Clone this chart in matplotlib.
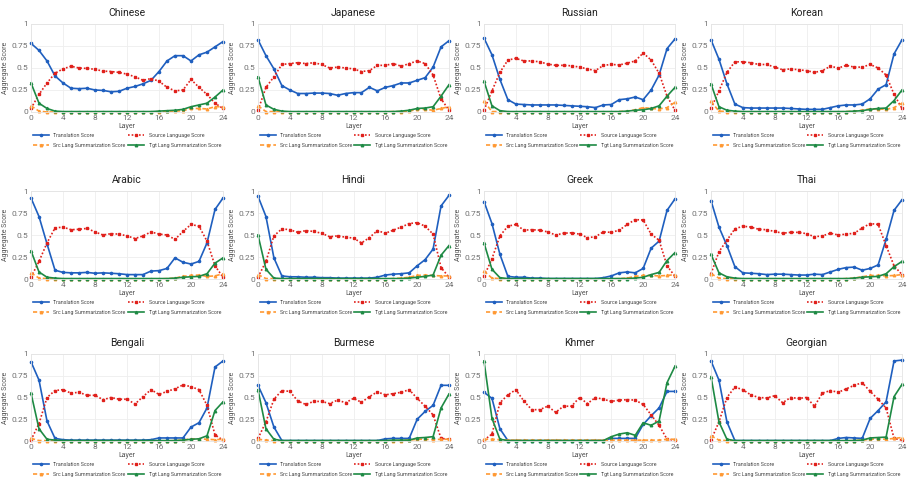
import matplotlib
matplotlib.use("Agg")
import matplotlib.pyplot as plt

plt.rcParams['font.family'] = ['Roboto', 'DejaVu Sans']

LAYERS = list(range(25))
LANGUAGES = ["Chinese", "Japanese", "Russian", "Korean",
             "Arabic", "Hindi", "Greek", "Thai",
             "Bengali", "Burmese", "Khmer", "Georgian"]
SERIES_NAMES = ["Translation Score", "Source Language Score",
                "Src Lang Summarization Score", "Tgt Lang Summarization Score"]

# ---- Chinese ----
zh_trans = [0.78, 0.70, 0.58, 0.41, 0.33, 0.27, 0.265, 0.27, 0.25, 0.245, 0.23, 0.235, 0.27, 0.29, 0.32, 0.36, 0.46, 0.58, 0.64, 0.64, 0.58, 0.65, 0.68, 0.74, 0.80]
zh_src = [0.04, 0.20, 0.33, 0.44, 0.49, 0.52, 0.50, 0.495, 0.485, 0.465, 0.46, 0.45, 0.43, 0.40, 0.36, 0.38, 0.35, 0.28, 0.24, 0.25, 0.37, 0.28, 0.20, 0.10, 0.04]
zh_srcsum = [0.07, 0.01, 0.0, 0.0, 0.0, 0.0, 0.0, 0.0, 0.0, 0.0, 0.0, 0.0, 0.0, 0.0, 0.0, 0.0, 0.005, 0.01, 0.01, 0.015, 0.04, 0.04, 0.035, 0.06, 0.06]
zh_tgtsum = [0.33, 0.10, 0.04, 0.01, 0.005, 0.005, 0.005, 0.005, 0.005, 0.005, 0.005, 0.005, 0.005, 0.005, 0.005, 0.005, 0.01, 0.015, 0.02, 0.03, 0.06, 0.08, 0.10, 0.17, 0.25]

# ---- Japanese ----
ja_trans = [0.82, 0.64, 0.49, 0.30, 0.25, 0.21, 0.21, 0.215, 0.215, 0.21, 0.19, 0.21, 0.22, 0.22, 0.28, 0.24, 0.28, 0.30, 0.33, 0.33, 0.36, 0.39, 0.51, 0.74, 0.81]
ja_src = [0.02, 0.28, 0.40, 0.54, 0.55, 0.56, 0.55, 0.56, 0.54, 0.50, 0.51, 0.50, 0.49, 0.46, 0.47, 0.53, 0.53, 0.55, 0.52, 0.55, 0.58, 0.55, 0.42, 0.15, 0.02]
ja_srcsum = [0.07, 0.005, 0.005, 0.0, 0.0, 0.0, 0.0, 0.0, 0.0, 0.0, 0.0, 0.0, 0.0, 0.0, 0.0, 0.0, 0.0, 0.005, 0.005, 0.01, 0.03, 0.03, 0.02, 0.04, 0.06]
ja_tgtsum = [0.40, 0.08, 0.03, 0.01, 0.005, 0.005, 0.005, 0.005, 0.005, 0.005, 0.005, 0.005, 0.005, 0.005, 0.005, 0.005, 0.005, 0.005, 0.01, 0.02, 0.04, 0.045, 0.06, 0.18, 0.31]

# ---- Russian ----
ru_trans = [0.84, 0.65, 0.37, 0.14, 0.09, 0.085, 0.08, 0.08, 0.08, 0.08, 0.075, 0.07, 0.065, 0.06, 0.05, 0.08, 0.085, 0.14, 0.15, 0.17, 0.14, 0.25, 0.42, 0.72, 0.83]
ru_src = [0.02, 0.24, 0.45, 0.59, 0.61, 0.58, 0.58, 0.57, 0.545, 0.53, 0.53, 0.525, 0.51, 0.49, 0.47, 0.53, 0.54, 0.535, 0.555, 0.58, 0.67, 0.59, 0.44, 0.18, 0.02]
ru_srcsum = [0.12, 0.005, 0.005, 0.0, 0.0, 0.0, 0.0, 0.0, 0.0, 0.0, 0.0, 0.0, 0.0, 0.0, 0.0, 0.0, 0.0, 0.005, 0.01, 0.025, 0.05, 0.04, 0.035, 0.05, 0.11]
ru_tgtsum = [0.35, 0.07, 0.015, 0.005, 0.005, 0.005, 0.005, 0.005, 0.005, 0.005, 0.005, 0.005, 0.005, 0.005, 0.005, 0.005, 0.005, 0.005, 0.01, 0.02, 0.025, 0.04, 0.07, 0.18, 0.28]

# ---- Korean ----
ko_trans = [0.82, 0.60, 0.32, 0.09, 0.05, 0.045, 0.045, 0.045, 0.045, 0.045, 0.04, 0.035, 0.03, 0.03, 0.03, 0.05, 0.07, 0.08, 0.08, 0.09, 0.15, 0.26, 0.31, 0.66, 0.82]
ko_src = [0.04, 0.24, 0.45, 0.57, 0.57, 0.56, 0.54, 0.54, 0.51, 0.48, 0.49, 0.48, 0.47, 0.45, 0.47, 0.52, 0.50, 0.53, 0.51, 0.51, 0.54, 0.50, 0.42, 0.20, 0.04]
ko_srcsum = [0.12, 0.01, 0.005, 0.0, 0.0, 0.0, 0.0, 0.0, 0.0, 0.0, 0.0, 0.0, 0.0, 0.0, 0.0, 0.0, 0.0, 0.005, 0.01, 0.02, 0.035, 0.035, 0.03, 0.05, 0.10]
ko_tgtsum = [0.32, 0.06, 0.02, 0.01, 0.005, 0.005, 0.005, 0.005, 0.005, 0.005, 0.005, 0.005, 0.005, 0.005, 0.005, 0.005, 0.005, 0.005, 0.01, 0.015, 0.03, 0.04, 0.045, 0.13, 0.25]

# ---- Arabic ----
ar_trans = [0.92, 0.71, 0.40, 0.10, 0.075, 0.07, 0.07, 0.075, 0.065, 0.07, 0.065, 0.06, 0.05, 0.05, 0.05, 0.09, 0.095, 0.12, 0.24, 0.19, 0.17, 0.20, 0.41, 0.79, 0.92]
ar_src = [0.02, 0.20, 0.41, 0.58, 0.59, 0.56, 0.565, 0.575, 0.535, 0.50, 0.515, 0.51, 0.49, 0.46, 0.49, 0.535, 0.51, 0.50, 0.45, 0.54, 0.62, 0.60, 0.43, 0.15, 0.02]
ar_srcsum = [0.07, 0.01, 0.005, 0.0, 0.0, 0.0, 0.0, 0.0, 0.0, 0.0, 0.0, 0.0, 0.0, 0.0, 0.0, 0.0, 0.0, 0.005, 0.01, 0.03, 0.04, 0.045, 0.03, 0.035, 0.06]
ar_tgtsum = [0.32, 0.08, 0.02, 0.01, 0.005, 0.005, 0.005, 0.005, 0.005, 0.005, 0.005, 0.005, 0.005, 0.005, 0.005, 0.005, 0.005, 0.005, 0.01, 0.02, 0.025, 0.03, 0.06, 0.18, 0.24]

# ---- Hindi ----
hi_trans = [0.94, 0.71, 0.24, 0.035, 0.025, 0.025, 0.02, 0.02, 0.015, 0.015, 0.01, 0.01, 0.01, 0.01, 0.01, 0.02, 0.045, 0.055, 0.06, 0.07, 0.15, 0.22, 0.34, 0.83, 0.95]
hi_src = [0.02, 0.20, 0.49, 0.57, 0.56, 0.53, 0.55, 0.54, 0.52, 0.48, 0.49, 0.475, 0.465, 0.41, 0.47, 0.55, 0.52, 0.555, 0.59, 0.63, 0.64, 0.60, 0.51, 0.13, 0.02]
hi_srcsum = [0.05, 0.005, 0.005, 0.0, 0.0, 0.0, 0.0, 0.0, 0.0, 0.0, 0.0, 0.0, 0.0, 0.0, 0.0, 0.0, 0.0, 0.005, 0.01, 0.02, 0.04, 0.045, 0.04, 0.035, 0.035]
hi_tgtsum = [0.50, 0.11, 0.01, 0.005, 0.005, 0.005, 0.005, 0.005, 0.005, 0.005, 0.005, 0.005, 0.005, 0.005, 0.005, 0.005, 0.005, 0.005, 0.005, 0.01, 0.02, 0.03, 0.045, 0.27, 0.38]

# ---- Greek ----
el_trans = [0.88, 0.63, 0.28, 0.03, 0.02, 0.02, 0.01, 0.01, 0.005, 0.005, 0.005, 0.005, 0.005, 0.005, 0.005, 0.015, 0.035, 0.07, 0.08, 0.07, 0.12, 0.35, 0.43, 0.78, 0.91]
el_src = [0.03, 0.23, 0.49, 0.60, 0.62, 0.555, 0.56, 0.555, 0.535, 0.50, 0.52, 0.525, 0.51, 0.47, 0.48, 0.535, 0.53, 0.555, 0.62, 0.675, 0.67, 0.51, 0.44, 0.15, 0.03]
el_srcsum = [0.09, 0.01, 0.005, 0.0, 0.0, 0.0, 0.0, 0.0, 0.0, 0.0, 0.0, 0.0, 0.0, 0.0, 0.0, 0.0, 0.0, 0.005, 0.01, 0.03, 0.04, 0.04, 0.035, 0.04, 0.05]
el_tgtsum = [0.41, 0.11, 0.015, 0.005, 0.005, 0.005, 0.005, 0.005, 0.005, 0.005, 0.005, 0.005, 0.005, 0.005, 0.005, 0.005, 0.005, 0.005, 0.005, 0.01, 0.02, 0.05, 0.075, 0.21, 0.30]

# ---- Thai ----
th_trans = [0.89, 0.59, 0.38, 0.14, 0.07, 0.065, 0.06, 0.05, 0.055, 0.055, 0.05, 0.045, 0.045, 0.055, 0.05, 0.08, 0.11, 0.13, 0.135, 0.10, 0.12, 0.16, 0.45, 0.78, 0.90]
th_src = [0.06, 0.31, 0.44, 0.57, 0.60, 0.59, 0.565, 0.56, 0.54, 0.52, 0.53, 0.53, 0.515, 0.48, 0.49, 0.52, 0.50, 0.51, 0.52, 0.58, 0.63, 0.62, 0.38, 0.15, 0.05]
th_srcsum = [0.06, 0.01, 0.005, 0.0, 0.0, 0.0, 0.0, 0.0, 0.0, 0.0, 0.0, 0.0, 0.0, 0.0, 0.0, 0.0, 0.0, 0.005, 0.01, 0.025, 0.04, 0.04, 0.035, 0.04, 0.05]
th_tgtsum = [0.28, 0.07, 0.025, 0.01, 0.005, 0.005, 0.005, 0.005, 0.005, 0.005, 0.005, 0.005, 0.005, 0.005, 0.005, 0.005, 0.005, 0.005, 0.01, 0.02, 0.025, 0.03, 0.06, 0.14, 0.20]

# ---- Bengali ----
bn_trans = [0.91, 0.70, 0.23, 0.03, 0.015, 0.01, 0.01, 0.01, 0.01, 0.01, 0.01, 0.01, 0.01, 0.01, 0.01, 0.015, 0.035, 0.035, 0.035, 0.035, 0.16, 0.21, 0.38, 0.85, 0.92]
bn_src = [0.01, 0.20, 0.50, 0.58, 0.59, 0.55, 0.56, 0.525, 0.525, 0.475, 0.50, 0.48, 0.48, 0.425, 0.51, 0.59, 0.535, 0.57, 0.60, 0.645, 0.625, 0.59, 0.41, 0.07, 0.01]
bn_srcsum = [0.03, 0.005, 0.005, 0.0, 0.0, 0.0, 0.0, 0.0, 0.0, 0.0, 0.0, 0.0, 0.0, 0.0, 0.0, 0.0, 0.0, 0.0, 0.005, 0.01, 0.025, 0.025, 0.02, 0.015, 0.02]
bn_tgtsum = [0.55, 0.14, 0.02, 0.01, 0.005, 0.005, 0.005, 0.005, 0.005, 0.005, 0.005, 0.005, 0.005, 0.005, 0.005, 0.005, 0.005, 0.005, 0.005, 0.01, 0.02, 0.025, 0.06, 0.35, 0.45]

# ---- Burmese ----
my_trans = [0.64, 0.44, 0.16, 0.005, 0.005, 0.005, 0.005, 0.005, 0.005, 0.005, 0.005, 0.005, 0.005, 0.005, 0.005, 0.005, 0.025, 0.03, 0.03, 0.03, 0.25, 0.34, 0.41, 0.64, 0.64]
my_src = [0.03, 0.22, 0.48, 0.58, 0.57, 0.46, 0.42, 0.455, 0.455, 0.43, 0.47, 0.44, 0.49, 0.445, 0.51, 0.565, 0.53, 0.545, 0.56, 0.59, 0.49, 0.40, 0.30, 0.03, 0.02]
my_srcsum = [0.02, 0.01, 0.005, 0.0, 0.0, 0.0, 0.0, 0.0, 0.0, 0.0, 0.0, 0.0, 0.0, 0.0, 0.0, 0.0, 0.0, 0.0, 0.005, 0.01, 0.02, 0.02, 0.015, 0.02, 0.02]
my_tgtsum = [0.59, 0.14, 0.02, 0.005, 0.005, 0.005, 0.005, 0.005, 0.005, 0.005, 0.005, 0.005, 0.005, 0.005, 0.005, 0.005, 0.005, 0.01, 0.01, 0.01, 0.035, 0.04, 0.05, 0.38, 0.54]

# ---- Khmer ----
km_trans = [0.56, 0.49, 0.14, 0.005, 0.005, 0.005, 0.005, 0.005, 0.005, 0.005, 0.005, 0.005, 0.005, 0.005, 0.005, 0.005, 0.03, 0.03, 0.03, 0.03, 0.19, 0.29, 0.38, 0.57, 0.57]
km_src = [0.01, 0.08, 0.44, 0.53, 0.59, 0.46, 0.36, 0.36, 0.40, 0.33, 0.40, 0.40, 0.50, 0.43, 0.50, 0.48, 0.455, 0.47, 0.475, 0.47, 0.42, 0.30, 0.18, 0.02, 0.01]
km_srcsum = [0.02, 0.02, 0.015, 0.01, 0.01, 0.01, 0.01, 0.01, 0.01, 0.01, 0.01, 0.01, 0.01, 0.01, 0.01, 0.01, 0.01, 0.01, 0.01, 0.01, 0.01, 0.01, 0.01, 0.02, 0.02]
km_tgtsum = [0.92, 0.26, 0.02, 0.005, 0.005, 0.005, 0.005, 0.005, 0.005, 0.005, 0.005, 0.005, 0.005, 0.005, 0.005, 0.005, 0.05, 0.08, 0.095, 0.065, 0.21, 0.18, 0.23, 0.67, 0.86]

# ---- Georgian ----
ka_trans = [0.92, 0.70, 0.22, 0.005, 0.005, 0.005, 0.005, 0.005, 0.005, 0.005, 0.005, 0.005, 0.005, 0.005, 0.005, 0.005, 0.03, 0.04, 0.035, 0.03, 0.26, 0.35, 0.45, 0.92, 0.93]
ka_src = [0.01, 0.22, 0.50, 0.62, 0.59, 0.53, 0.50, 0.495, 0.52, 0.44, 0.50, 0.49, 0.50, 0.40, 0.55, 0.58, 0.56, 0.60, 0.64, 0.67, 0.57, 0.48, 0.38, 0.03, 0.01]
ka_srcsum = [0.06, 0.01, 0.005, 0.0, 0.0, 0.0, 0.0, 0.0, 0.0, 0.0, 0.0, 0.0, 0.0, 0.0, 0.0, 0.0, 0.0, 0.0, 0.005, 0.01, 0.02, 0.025, 0.02, 0.03, 0.04]
ka_tgtsum = [0.74, 0.22, 0.02, 0.005, 0.005, 0.005, 0.005, 0.005, 0.005, 0.005, 0.005, 0.005, 0.005, 0.005, 0.005, 0.005, 0.005, 0.005, 0.005, 0.01, 0.035, 0.04, 0.045, 0.51, 0.65]

PANEL_DATA = [
    (zh_trans, zh_src, zh_srcsum, zh_tgtsum),
    (ja_trans, ja_src, ja_srcsum, ja_tgtsum),
    (ru_trans, ru_src, ru_srcsum, ru_tgtsum),
    (ko_trans, ko_src, ko_srcsum, ko_tgtsum),
    (ar_trans, ar_src, ar_srcsum, ar_tgtsum),
    (hi_trans, hi_src, hi_srcsum, hi_tgtsum),
    (el_trans, el_src, el_srcsum, el_tgtsum),
    (th_trans, th_src, th_srcsum, th_tgtsum),
    (bn_trans, bn_src, bn_srcsum, bn_tgtsum),
    (my_trans, my_src, my_srcsum, my_tgtsum),
    (km_trans, km_src, km_srcsum, km_tgtsum),
    (ka_trans, ka_src, ka_srcsum, ka_tgtsum),
]

STYLES = [
    dict(color="#1f5fbf", linestyle="-", marker="o", markersize=1.6, linewidth=1.2),
    dict(color="#e0201b", linestyle=(0, (1, 1.2)), marker="s", markersize=1.6, linewidth=1.2),
    dict(color="#ff9933", linestyle=(0, (2.5, 1.5)), marker="^", markersize=1.8, linewidth=1.2),
    dict(color="#1e8a44", linestyle="-", marker="^", markersize=1.8, linewidth=1.2),
]

W, H = 913, 484
fig = plt.figure(figsize=(W / 100, H / 100), dpi=100)

col_x = [(31, 223), (258, 449), (484, 675), (711, 902)]
row_y = [(24, 112), (191, 279), (354, 441)]

for idx, (lang, series) in enumerate(zip(LANGUAGES, PANEL_DATA)):
    r, c = divmod(idx, 4)
    x0, x1 = col_x[c]
    y0, y1 = row_y[r]
    ax = fig.add_axes([x0 / W, 1 - y1 / H, (x1 - x0) / W, (y1 - y0) / H])
    lines = []
    for vals, name, st in zip(series, SERIES_NAMES, STYLES):
        ln, = ax.plot(LAYERS, vals, label=name, clip_on=False, **st)
        lines.append(ln)
    ax.set_xlim(0, 24)
    ax.set_ylim(0, 1)
    ax.set_xticks([0, 4, 8, 12, 16, 20, 24])
    ax.set_yticks([0, 0.25, 0.5, 0.75, 1])
    ax.set_yticklabels(["0", "0.25", "0.5", "0.75", "1"])
    ax.grid(True, color="#eeeeee", linewidth=0.6)
    ax.set_axisbelow(True)
    for sp in ax.spines.values():
        sp.set_color("#e4e4e4")
        sp.set_linewidth(0.6)
    ax.tick_params(axis="both", length=0, labelsize=6, colors="#707070", pad=2)
    ax.set_title(lang, fontsize=7.5, color="#222222", pad=6)
    ax.set_xlabel("Layer", fontsize=5, color="#555555", labelpad=1.5)
    ax.set_ylabel("Aggregate Score", fontsize=5, color="#555555", labelpad=2)
    order = [0, 2, 1, 3]
    ax.legend([lines[i] for i in order], [SERIES_NAMES[i] for i in order],
              loc="upper left", bbox_to_anchor=(0.0, -0.225, 1.0, 0.01), mode="expand",
              ncol=2, frameon=False, fontsize=3.8, handlelength=3.0,
              borderaxespad=0, handletextpad=0.8, labelspacing=1.0,
              columnspacing=1.0, labelcolor="#444444")

fig.savefig("out.png", dpi=100, facecolor="white")
